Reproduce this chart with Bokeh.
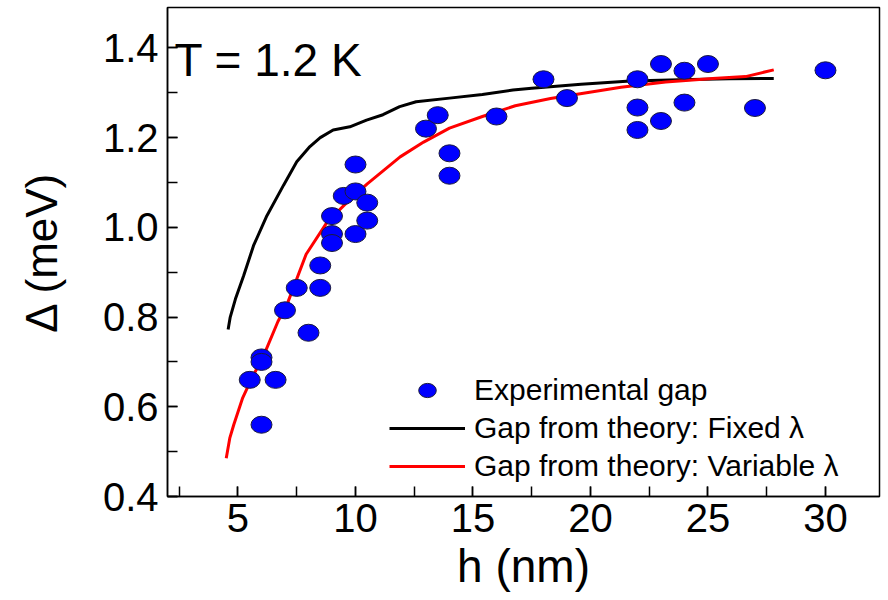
from bokeh.plotting import figure
from bokeh.models import Range1d, FixedTicker, Legend, LegendItem, Label, PrintfTickFormatter
from bokeh.embed import file_html
from bokeh.resources import INLINE

# Experimental gap
exp_h = [5.5, 6.0, 6.0, 6.6, 6.0, 7.0, 7.5, 8.0, 8.5, 8.5, 9.0, 9.0, 9.0, 9.5,
         10.0, 10.0, 10.0, 10.5, 10.5, 13.0, 13.5, 14.0, 14.0, 16.0, 18.0, 19.0,
         22.0, 22.0, 22.0, 23.0, 23.0, 24.0, 24.0, 25.0, 27.0, 30.0]
exp_gap = [0.66, 0.71, 0.70, 0.66, 0.56, 0.815, 0.865, 0.765, 0.865, 0.915, 1.025,
           0.985, 0.965, 1.07, 1.08, 1.14, 0.985, 1.055, 1.015, 1.22, 1.25, 1.165,
           1.115, 1.247, 1.33, 1.288, 1.33, 1.267, 1.217, 1.364, 1.237, 1.349, 1.278,
           1.364, 1.266, 1.35]

# Gap from theory: fixed lambda
fixed_h = [4.58, 4.67, 4.89, 5.24, 5.66, 6.23, 6.94, 7.5, 8.06, 8.5, 9.05, 9.76,
           10.47, 11.17, 11.88, 12.58, 14.0, 15.4, 16.7, 17.5, 19.6, 21.7, 23.8,
           25.9, 27.8]
fixed_gap = [0.772, 0.80, 0.84, 0.892, 0.959, 1.026, 1.094, 1.146, 1.18, 1.20, 1.217,
             1.224, 1.239, 1.251, 1.269, 1.28, 1.288, 1.296, 1.306, 1.31, 1.319,
             1.326, 1.329, 1.331, 1.332]

# Gap from theory: variable lambda
var_h = [4.5, 4.65, 4.82, 5.2, 5.6, 6.1, 6.7, 7.1, 7.9, 8.8, 9.8, 10.5, 11.9, 12.9,
         14.0, 15.4, 16.8, 18.3, 19.7, 21.3, 23.2, 25.2, 26.6, 27.8]
var_gap = [0.485, 0.53, 0.56, 0.62, 0.665, 0.715, 0.79, 0.83, 0.94, 1.012, 1.064,
           1.097, 1.157, 1.19, 1.221, 1.247, 1.271, 1.287, 1.299, 1.312, 1.324,
           1.332, 1.336, 1.351]

x_ticks = [5, 10, 15, 20, 25, 30]
x_minor = [2.5, 5, 7.5, 10, 12.5, 15, 17.5, 20, 22.5, 25, 27.5, 30]
y_ticks = [0.4, 0.6, 0.8, 1.0, 1.2, 1.4]
y_minor = [0.4, 0.5, 0.6, 0.7, 0.8, 0.9, 1.0, 1.1, 1.2, 1.3, 1.4]

FONT = "Liberation Sans"

p = figure(width=888, height=600, output_backend="svg", toolbar_location=None,
           x_range=Range1d(2.0, 32.3), y_range=Range1d(0.4, 1.49),
           min_border_left=167, min_border_right=9, min_border_top=7,
           min_border_bottom=104)

p.background_fill_color = "white"
p.border_fill_color = "white"
p.outline_line_color = "black"
p.outline_line_width = 1.5
p.xgrid.visible = False
p.ygrid.visible = False

for ax, ticks, minor in ((p.xaxis[0], x_ticks, x_minor), (p.yaxis[0], y_ticks, y_minor)):
    ax.ticker = FixedTicker(ticks=ticks, minor_ticks=minor)
    ax.major_tick_in = 10
    ax.major_tick_out = 0
    ax.minor_tick_in = 10
    ax.minor_tick_out = 0
    ax.axis_line_color = "black"
    ax.axis_line_width = 1.5
    ax.major_tick_line_width = 1.5
    ax.minor_tick_line_width = 1.5
    ax.major_label_text_font = FONT
    ax.major_label_text_font_size = "40px"
    ax.major_label_text_color = "black"
    ax.axis_label_text_font = FONT
    ax.axis_label_text_font_style = "normal"
    ax.axis_label_text_color = "black"

p.xaxis.axis_label = "h (nm)"
p.xaxis.axis_label_text_font_size = "46px"
p.xaxis.major_label_standoff = 7
p.xaxis.axis_label_standoff = 5

p.yaxis.axis_label = "Δ (meV)"
p.yaxis.axis_label_text_font_size = "44px"
p.yaxis.major_label_standoff = 9
p.yaxis.axis_label_standoff = 34
p.yaxis.formatter = PrintfTickFormatter(format="%.1f")

r_fixed = p.line(fixed_h, fixed_gap, line_color="black", line_width=3)
r_var = p.line(var_h, var_gap, line_color="#ff0000", line_width=3)
r_exp = p.ellipse(exp_h, exp_gap, width=21, height=17, width_units="screen",
                  height_units="screen", fill_color="#0000ff",
                  line_color="#1a1a40", line_width=1)

legend = Legend(items=[
    LegendItem(label="Experimental gap", renderers=[r_exp]),
    LegendItem(label="Gap from theory: Fixed λ", renderers=[r_fixed]),
    LegendItem(label="Gap from theory: Variable λ", renderers=[r_var]),
], location=(222, 13))
legend.background_fill_alpha = 0
legend.border_line_alpha = 0
legend.label_text_font = FONT
legend.label_text_font_size = "30px"
legend.label_text_color = "black"
legend.glyph_width = 76
legend.glyph_height = 22
legend.label_height = 30
legend.spacing = 4
legend.padding = 0
legend.margin = 0
legend.label_standoff = 9
p.add_layout(legend, "center")

p.add_layout(Label(x=2.3, y=1.372, text="T = 1.2 K", text_font=FONT,
                   text_font_size="46px", text_color="black",
                   text_baseline="alphabetic"))

open("out.html", "w").write(file_html(p, INLINE))
